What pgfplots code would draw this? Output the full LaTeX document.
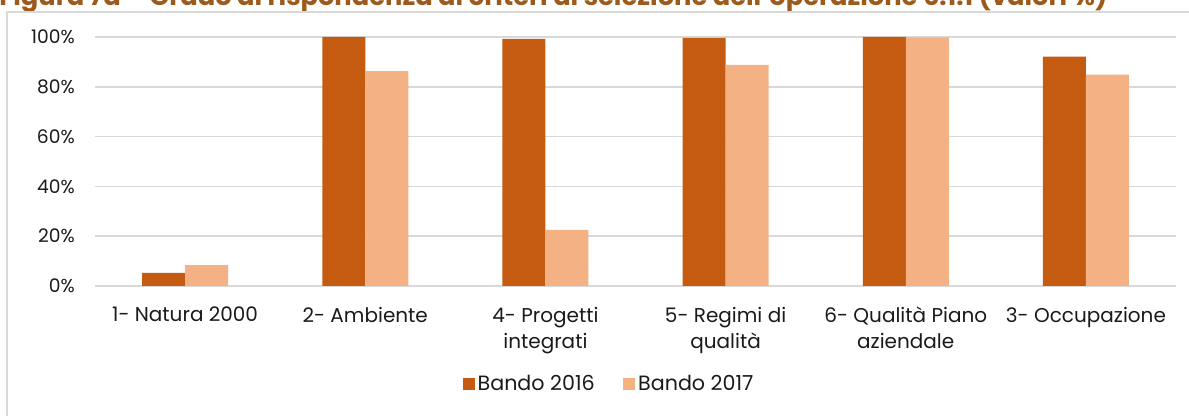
\documentclass[border=0pt]{standalone}
\usepackage{fontspec}
\setmainfont{Poppins}
\usepackage{pgfplots}
\pgfplotsset{compat=1.18}
\definecolor{c16}{HTML}{C55A11}
\definecolor{c17}{HTML}{F4B183}
\definecolor{gridc}{HTML}{D9D9D9}
\definecolor{titc}{HTML}{9C5B1C}
\definecolor{txt}{HTML}{1A1A1A}
\begin{document}
\begin{tikzpicture}
% picture frame, in pixel units of the reference
\begin{scope}[x=0.75pt,y=-0.75pt]
  \useasboundingbox (0,0) rectangle (1189,416);
  \node[anchor=base west, inner sep=0pt, text=titc,
        font=\bfseries\fontsize{19.3}{23}\selectfont] at (-1,6)
    {Figura 7a – Grado di rispondenza ai criteri di selezione dell'operazione 6.1.1 (valori \%)};
  \draw[gridc, line width=1.5pt] (6.5,440) -- (6.5,12.5) -- (1220,12.5);
\end{scope}
\begin{axis}[
    at={(71.25pt,-214.5pt)}, anchor=south west,
    scale only axis, width=810.75pt, height=186.75pt,
    xmin=-0.5, xmax=5.5, ymin=0, ymax=100,
    ybar=0pt, bar width=32.25pt,
    axis x line*=bottom, axis y line*=left,
    x axis line style={gridc, line width=1.5pt},
    y axis line style={draw=none},
    major tick length=0pt,
    ymajorgrids, grid style={gridc, line width=1.1pt},
    ytick={0,20,40,60,80,100},
    yticklabel={\pgfmathprintnumber{\tick}\%},
    /pgf/number format/assume math mode=true,
    yticklabel style={anchor=east, inner sep=0pt, xshift=-15pt, text=txt,
                      font=\fontsize{14}{17}\selectfont},
    xtick={0,1,2,3,4,5},
    xticklabels={{1- Natura 2000},{2- Ambiente},{4- Progetti\\integrati},
                 {5- Regimi di\\qualità},{6- Qualità Piano\\aziendale},{3- Occupazione}},
    xticklabel style={anchor=north, align=center, inner sep=0pt, yshift=-15.5pt,
                      text=txt, font=\fontsize{15}{19.5}\selectfont},
    legend style={at={(0.476,-0.394)}, anchor=center, draw=none, fill=none,
                  legend columns=2, font=\fontsize{15.5}{18}\selectfont, text=txt,
                  /tikz/every even column/.append style={column sep=19.5pt},
                  inner sep=0pt},
    legend image code/.code={\fill[#1] (0pt,-4.5pt) rectangle (9pt,4.5pt);},
]
\addplot[fill=c16, draw=none] coordinates {(0,5.3) (1,100) (2,99.2) (3,99.6) (4,100) (5,92.1)};
\addplot[fill=c17, draw=none] coordinates {(0,8.4) (1,86.3) (2,22.5) (3,88.8) (4,99.8) (5,84.9)};
\legend{Bando 2016, Bando 2017}
\end{axis}
\end{tikzpicture}
\end{document}
